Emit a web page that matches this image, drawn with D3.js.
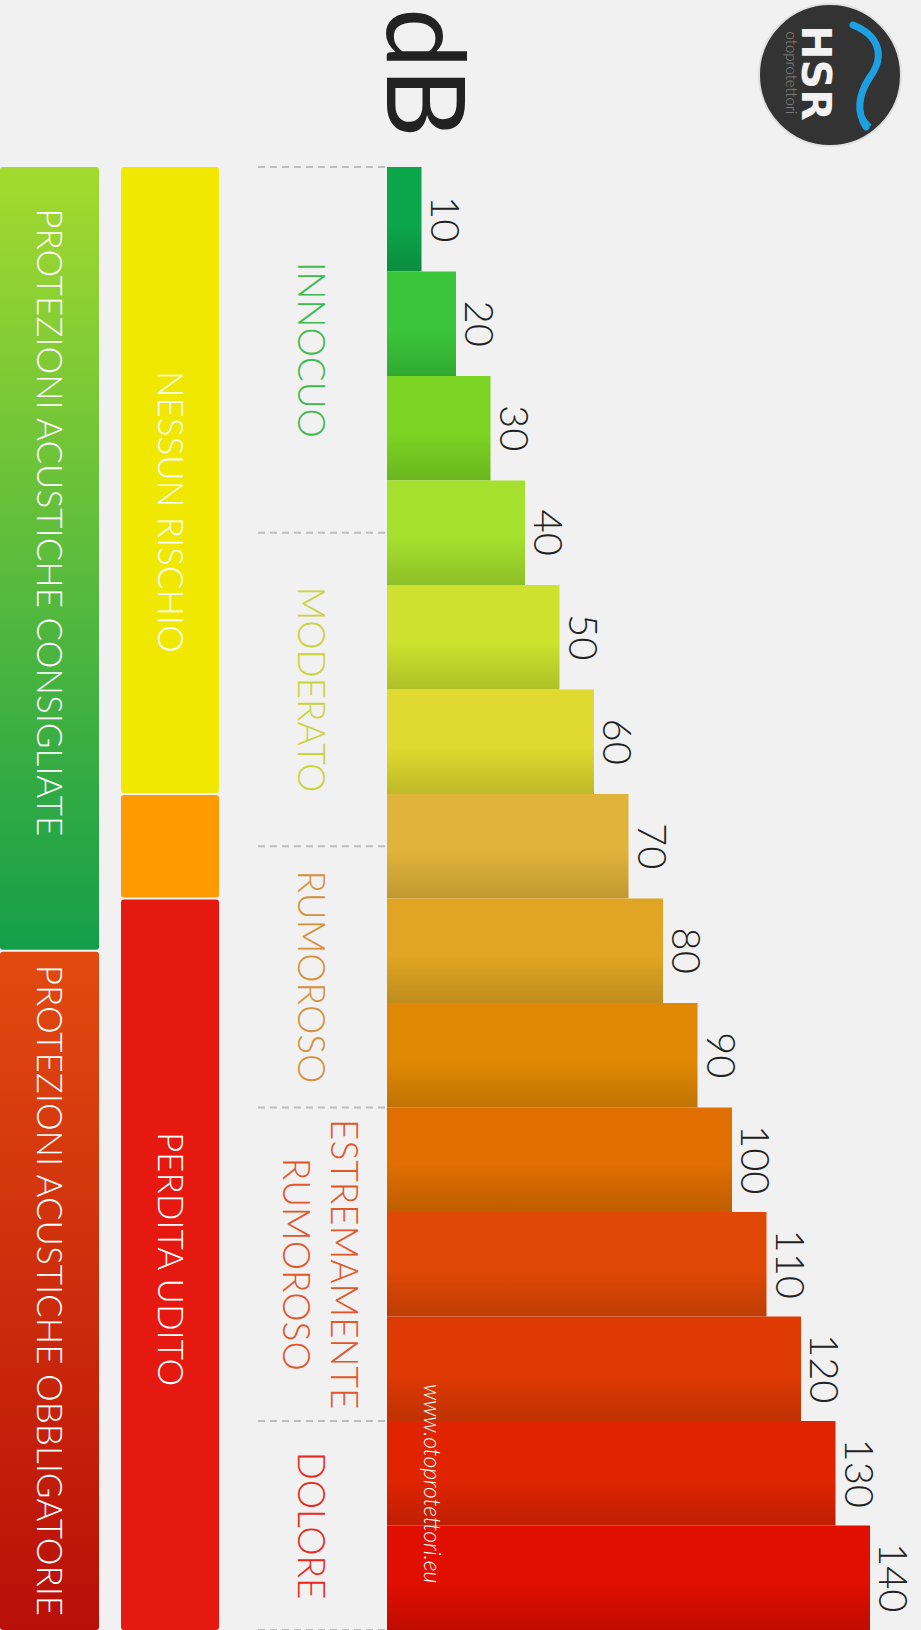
<!DOCTYPE html>
<html>
<head>
<meta charset="utf-8">
<script src="https://cdn.jsdelivr.net/npm/d3@7"></script>
<style>
  html, body { margin: 0; padding: 0; background: #f1f1f1; }
  svg { display: block; }
</style>
</head>
<body>
<div id="chart"></div>
<script>
// dB levels and the colour of each bar
const levels = [10, 20, 30, 40, 50, 60, 70, 80, 90, 100, 110, 120, 130, 140];
const barColors = ['#0ca64a', '#3ac63a', '#7cd424', '#a5e02e', '#cde12e', '#e0d92f', '#e0b33a',
                   '#e0a522', '#e08804', '#e06e00', '#e04806', '#e03a04', '#e02402', '#e00f00'];

// perceived loudness zones (breaks in dB)
const zoneLines = [['INNOCUO'], ['MODERATO'], ['RUMOROSO'], ['ESTREMAMENTE', 'RUMOROSO'], ['DOLORE']];
const zoneBreaks = [0, 35, 65, 90, 120, 140];
const zoneColors = ['#40b94e', '#c9d33a', '#d4923c', '#e2562c', '#e82a1e'];

// hearing risk column
const riskNames = ['NESSUN RISCHIO', '', 'PERDITA UDITO'];
const riskBreaks = [0, 60, 70, 140];
const riskColors = ['#f0e800', '#ff9a00', '#e5190f'];
const riskLabelAt = [33, 65, 104.5];

// hearing protection column
const protNames = ['PROTEZIONI ACUSTICHE CONSIGLIATE', 'PROTEZIONI ACUSTICHE OBBLIGATORIE'];
const protBreaks = [0, 75, 140];
const protTop = ['#a4da2e', '#e24a10'];
const protBottom = ['#149e4a', '#b80f08'];
const protLabelAt = [34, 107.5];

const W = 921, H = 1630;
const svg = d3.select('#chart').append('svg')
  .attr('width', W)
  .attr('height', H)
  .style('background', '#f1f1f1');

const defs = svg.append('defs');

// vertical position by dB level, horizontal bar length by dB value
const yScale = d3.scaleLinear().domain([0, 140]).range([167, 1630]);
const yBand = d3.scaleBand().domain(levels).range([167, 1630]).padding(0);
const xScale = d3.scaleLinear().domain([0, 140]).range([387, 870]);

const font = 'Lato, "Open Sans", sans-serif';

// rotated text helper: reads top to bottom, glyph tops face right
function vtext(parent, x, y, txt) {
  return parent.append('text')
    .attr('transform', `translate(${x},${y}) rotate(90)`)
    .attr('text-anchor', 'middle')
    .style('font-family', font)
    .text(txt);
}

// bar gradients
levels.forEach((v, i) => {
  const grad = defs.append('linearGradient')
    .attr('id', 'bar' + i)
    .attr('x1', 0).attr('y1', 0).attr('x2', 0).attr('y2', 1);
  grad.append('stop').attr('offset', 0).attr('stop-color', barColors[i]);
  grad.append('stop').attr('offset', 0.55).attr('stop-color', barColors[i]);
  grad.append('stop').attr('offset', 1).attr('stop-color', d3.color(barColors[i]).darker(0.45));
});

// bars
svg.append('g').selectAll('rect')
  .data(levels)
  .enter().append('rect')
  .attr('x', xScale(0))
  .attr('y', d => yBand(d))
  .attr('width', d => xScale(d) - xScale(0))
  .attr('height', yBand.bandwidth())
  .attr('fill', (d, i) => `url(#bar${i})`);

// value labels
const valG = svg.append('g');
levels.forEach(v => {
  vtext(valG, xScale(v) + 9, yBand(v) + yBand.bandwidth() / 2, v)
    .style('font-size', '40px')
    .style('font-weight', 300)
    .attr('fill', '#222');
});

// watermark
vtext(svg, 424, yScale(126), 'www.otoprotettori.eu')
  .style('font-size', '23px')
  .style('font-style', 'italic')
  .style('font-weight', 300)
  .attr('fill', '#fff');

// zone separators
svg.append('g').selectAll('line')
  .data(zoneBreaks)
  .enter().append('line')
  .attr('x1', 258).attr('x2', 387)
  .attr('y1', d => yScale(d)).attr('y2', d => yScale(d))
  .attr('stroke', '#bdbdbd')
  .attr('stroke-width', 2)
  .attr('stroke-dasharray', '7,5');

// zone labels
const zoneG = svg.append('g');
zoneLines.forEach((lines, i) => {
  const cy = yScale((zoneBreaks[i] + zoneBreaks[i + 1]) / 2);
  const xs = lines.length === 1 ? [298] : [331, 283];
  lines.forEach((ln, j) => {
    vtext(zoneG, xs[j], cy, ln)
      .style('font-size', '37px')
      .style('font-weight', 300)
      .attr('fill', zoneColors[i]);
  });
});

// risk column
const riskG = svg.append('g');
riskNames.forEach((name, i) => {
  const y0 = yScale(riskBreaks[i]);
  const y1 = yScale(riskBreaks[i + 1]);
  riskG.append('rect')
    .attr('x', 121).attr('width', 98)
    .attr('y', y0 + (i > 0 ? 1 : 0))
    .attr('height', y1 - y0 - (i > 0 ? 1 : 0) - (i < riskNames.length - 1 ? 1 : 0))
    .attr('rx', 3)
    .attr('fill', riskColors[i]);
  if (name) {
    vtext(riskG, 170 - 12.5, yScale(riskLabelAt[i]), name)
      .style('font-size', '35px')
      .style('font-weight', 300)
      .attr('fill', '#fff');
  }
});

// protection column
const protG = svg.append('g');
protNames.forEach((name, i) => {
  const grad = defs.append('linearGradient')
    .attr('id', 'prot' + i)
    .attr('x1', 0).attr('y1', 0).attr('x2', 0).attr('y2', 1);
  grad.append('stop').attr('offset', 0).attr('stop-color', protTop[i]);
  grad.append('stop').attr('offset', 1).attr('stop-color', protBottom[i]);
  const y0 = yScale(protBreaks[i]);
  const y1 = yScale(protBreaks[i + 1]);
  protG.append('rect')
    .attr('x', 0).attr('width', 99)
    .attr('y', y0 + (i > 0 ? 1 : 0))
    .attr('height', y1 - y0 - 1)
    .attr('rx', 3)
    .attr('fill', `url(#prot${i})`);
  vtext(protG, 49.5 - 12.5, yScale(protLabelAt[i]), name)
    .style('font-size', '35px')
    .style('font-weight', 300)
    .attr('fill', '#fff');
});

// dB title
svg.append('text')
  .attr('transform', 'translate(387,8) rotate(90)')
  .attr('text-anchor', 'start')
  .style('font-family', font)
  .style('font-size', '108px')
  .attr('fill', '#222')
  .text('dB');

// logo
const logo = svg.append('g').attr('transform', 'translate(830,75)');
logo.append('circle').attr('r', 71).attr('fill', '#333')
  .attr('stroke', '#e0e0e0').attr('stroke-width', 2);
logo.append('path')
  .attr('d', 'M23,-50 C48,-40 56,-20 40,2 C28,20 26,36 36,52')
  .attr('fill', 'none').attr('stroke', '#1ca0e2').attr('stroke-width', 7).attr('stroke-linecap', 'round');
logo.append('path')
  .attr('d', 'M34,8 C26,24 28,38 40,50')
  .attr('fill', 'none').attr('stroke', '#1ca0e2').attr('stroke-width', 2.5).attr('stroke-linecap', 'round');
logo.append('text')
  .attr('transform', 'translate(-28,-2) rotate(90)')
  .attr('text-anchor', 'middle')
  .style('font-family', '"DejaVu Sans", sans-serif')
  .style('font-weight', 'bold')
  .style('font-size', '41px')
  .attr('fill', '#f2f2f2')
  .text('HSR');
logo.append('text')
  .attr('transform', 'translate(-44,-2) rotate(90)')
  .attr('text-anchor', 'middle')
  .style('font-family', font)
  .style('font-weight', 300)
  .style('font-size', '15px')
  .attr('fill', '#8a8a8a')
  .text('otoprotettori');
</script>
</body>
</html>
